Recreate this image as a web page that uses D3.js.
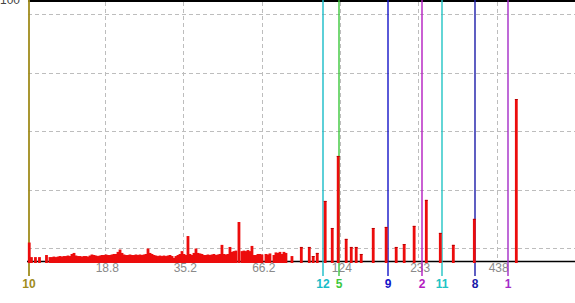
<!DOCTYPE html>
<html><head><meta charset="utf-8">
<script src="https://cdn.jsdelivr.net/npm/d3@7"></script>
<style>html,body{margin:0;padding:0;background:#fff;overflow:hidden}svg{display:block}</style>
</head><body>
<svg id="c" width="575" height="303"></svg>
<script>
// x-axis (log) tick labels
const xTicks = [18.8, 35.2, 66.2, 124, 233, 438];
// horizontal grid values (relative intensity, %)
const yGrid = [5, 27.5, 50, 72.5, 95];
const yTopLabel = ["100"];
// peaks: [m/z, relative intensity]
const peaks = [
 [10.15,7.1],[10.33,1.5],[10.67,1.5],[11.02,1.5],[11.66,2.3],
 [11.99,1.5],[12.19,1.5],[12.38,1.7],[12.58,1.5],[12.79,1.7],[13.00,1.9],[13.21,1.7],[13.42,1.9],
 [13.64,1.9],[13.86,2.1],[14.09,1.9],[14.31,2.7],[14.55,3.1],[14.78,2.1],[15.02,1.9],[15.27,1.9],
 [15.51,1.7],[15.77,1.9],[16.02,1.9],[16.28,1.7],[16.55,2.1],[16.81,2.5],[17.09,2.3],[17.36,2.1],
 [17.65,1.9],[17.93,2.1],[18.22,2.3],[18.52,2.3],[18.82,2.5],[19.13,2.3],[19.44,2.3],[19.75,2.5],
 [20.07,2.7],[20.40,2.7],[20.73,3.5],[21.07,4.4],[21.41,3.1],[21.75,2.5],[22.11,2.3],[22.47,2.3],
 [22.83,2.5],[23.20,2.3],[23.58,2.3],[23.96,2.5],[24.35,2.3],[24.74,2.5],[25.14,2.3],[25.55,2.5],
 [25.97,2.7],[26.39,4.8],[26.82,3.1],[27.25,2.7],[27.69,2.3],[28.14,2.1],[28.60,1.9],[29.06,2.1],
 [29.53,1.9],[30.01,2.1],[30.50,1.9],[30.99,2.1],[31.50,2.3],[32.01,1.9],[32.53,1.2],[33.05,1.9],
 [33.59,2.3],[34.13,2.7],[34.69,3.8],[35.25,2.7],[35.82,2.3],[36.40,9.6],[36.99,2.7],[37.59,2.3],
 [38.20,3.1],[38.82,4.8],[39.45,3.1],[40.09,2.9],[40.74,2.7],[41.40,2.3],[42.07,2.3],[42.75,2.5],
 [43.45,2.3],[44.15,2.5],[44.87,2.7],[45.59,2.3],[46.33,2.5],[47.08,2.7],[47.85,6.2],[48.62,2.7],
 [49.41,2.5],[50.21,2.7],[51.03,5.4],[51.86,3.5],[52.70,3.8],[53.55,4.0],[54.86,15.0],[56.20,3.8],
 [57.11,4.0],[58.03,3.8],[58.98,4.2],[59.93,3.8],[60.91,5.8],[61.90,2.3],[62.90,2.3],[63.92,2.7],
 [64.96,2.7],[66.01,2.5],[68.17,2.7],[69.28,2.5],[70.40,2.9],[72.70,2.3],[73.88,3.3],[75.08,3.1],
 [76.30,3.5],[77.53,2.7],[78.79,3.5],[80.07,3.1],[84.03,1.9],
 [90.6,5.4],[96.6,5.4],[99.7,1.9],[103.0,3.1],[109.8,23.1],[116.2,12.7],[121.9,40.4],[130.0,8.5],
 [135.4,5.4],[140.9,5.4],[146.7,2.7],[161.6,12.7],[179.3,13.1],[194.4,5.4],[207.3,6.5],[224.6,13.5],
 [247.7,23.5],[277.2,10.8],[307.8,6.2],[364.5,16.2],[511,62.3]
];
// labelled marker lines
const markerIds = ["10","12","5","9","2","11","8","1"];
const markerMz = [10.15, 108.0, 122.3, 182.2, 239.6, 280.0, 367.4, 479.1];
const markerColors = ["#a08c1c","#18bcc8","#3cc83c","#1414c8","#b41cc0","#22c4c4","#1a1aa8","#a42cc8"];

const svg = d3.select("#c");
const x = d3.scaleLog().domain([10, 822.7]).range([27.4, 575.5]);
const y = d3.scaleLinear().domain([0, 100]).range([261, 1]);
const font = "'Liberation Sans', Arial, sans-serif";

// grid
svg.append("g").attr("shape-rendering", "crispEdges").selectAll("line").data(yGrid).join("line")
  .attr("x1", x(10)+1).attr("x2", 575).attr("y1", d => Math.round(y(d))+0.5).attr("y2", d => Math.round(y(d))+0.5)
  .attr("stroke", "#bdbdbd").attr("stroke-dasharray", "4,3");
svg.append("g").attr("shape-rendering", "crispEdges").selectAll("line").data(xTicks).join("line")
  .attr("x1", d => Math.floor(x(d))+0.5).attr("x2", d => Math.floor(x(d))+0.5).attr("y1", 2).attr("y2", 261)
  .attr("stroke", "#bdbdbd").attr("stroke-dasharray", "4,3");

// frame lines
svg.append("line").attr("x1", 28).attr("x2", 575).attr("y1", 1).attr("y2", 1).attr("stroke", "#000").attr("stroke-width", 2);
svg.append("line").attr("x1", 27).attr("x2", 575).attr("y1", 261.5).attr("y2", 261.5).attr("stroke", "#000").attr("stroke-width", 1.5);

// tick labels
svg.append("g").selectAll("text").data(xTicks).join("text")
  .attr("x", d => x(d)+1.5).attr("y", 272).attr("text-anchor", "middle")
  .attr("font-family", font).attr("font-size", 12).attr("fill", "#8a8a8a").text(d => d);
svg.append("text").attr("x", 20).attr("y", 4).attr("text-anchor", "end")
  .attr("font-family", font).attr("font-size", 12).attr("fill", "#444").text(yTopLabel[0]);

// marker lines
svg.append("g").selectAll("line").data(markerMz).join("line")
  .attr("x1", d => Math.round(x(d))).attr("x2", d => Math.round(x(d)))
  .attr("y1", 0).attr("y2", 276)
  .attr("stroke", (d,i) => markerColors[i]).attr("stroke-width", (d,i) => i === 0 ? 1.8 : 1.4);

// bars
const g = svg.append("g");
g.selectAll("rect.b").data(peaks).join("rect").attr("class", "b")
  .attr("x", d => x(d[0]) - 1.4).attr("width", 2.8)
  .attr("y", d => y(d[1])).attr("height", d => 263 - y(d[1]))
  .attr("fill", "#ec0c0c");
g.selectAll("rect.t").data(peaks.filter(d => d[0] > 88)).join("rect").attr("class", "t")
  .attr("x", d => x(d[0]) - 1.4).attr("width", 2.8)
  .attr("y", d => y(d[1])).attr("height", 1)
  .attr("fill", "#b80000");

// marker labels
svg.append("g").selectAll("text").data(markerMz).join("text")
  .attr("x", d => Math.round(x(d))).attr("y", 288).attr("text-anchor", "middle")
  .attr("font-family", font).attr("font-size", 12).attr("font-weight", "bold")
  .attr("fill", (d,i) => markerColors[i]).text((d,i) => markerIds[i]);
</script>
</body></html>
